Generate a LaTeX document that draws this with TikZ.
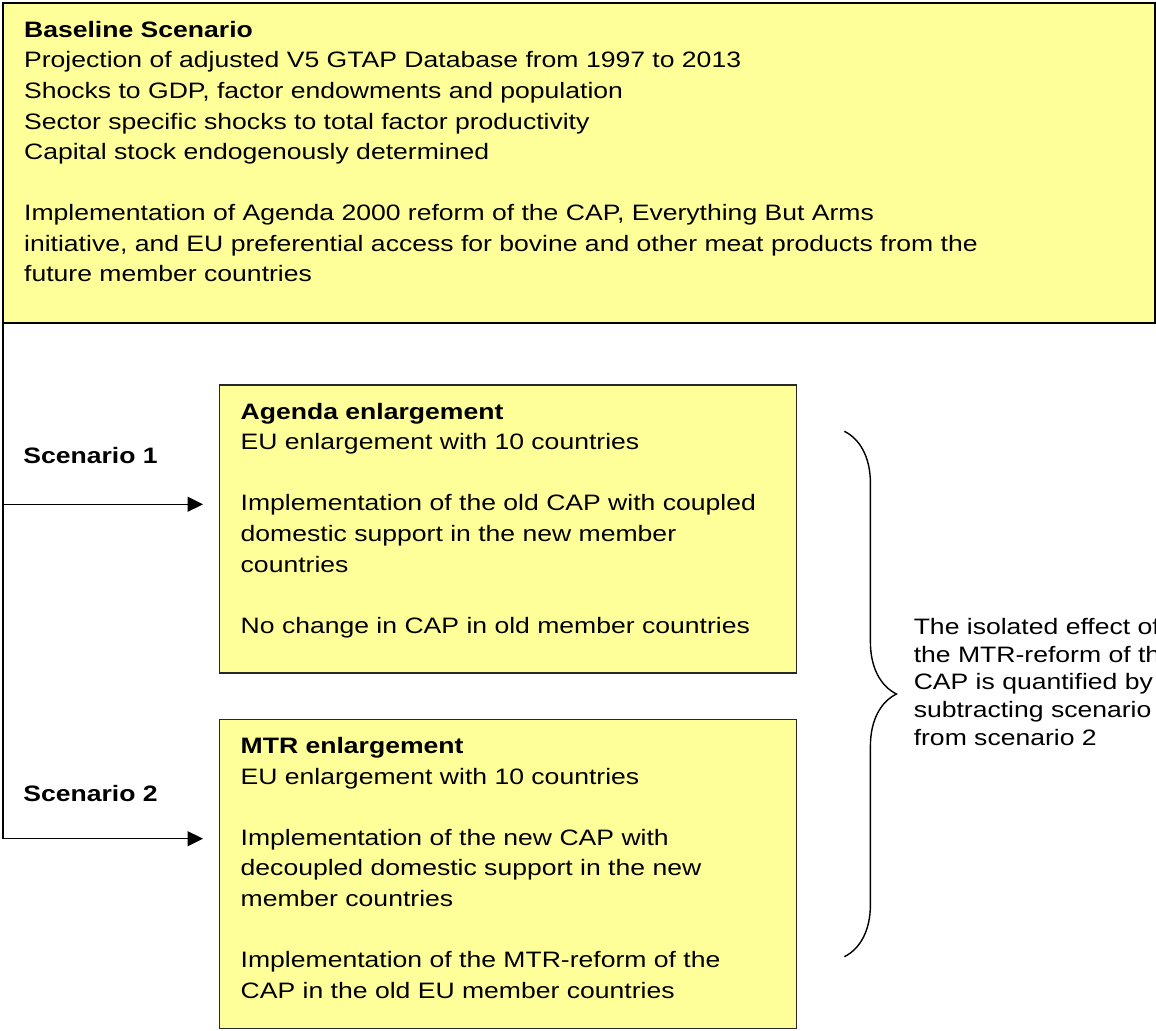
\documentclass[tikz,border=0pt]{standalone}
\usepackage{fontspec}
\setmainfont{Liberation Sans}[FakeStretch=1.19]
\usetikzlibrary{arrows.meta,positioning,decorations.pathreplacing,calc}
\definecolor{paleyellow}{RGB}{255,255,153}
\definecolor{boxline}{RGB}{40,40,40}

\begin{document}
\begin{tikzpicture}[node distance=1.2cm, auto]

\tikzstyle{basebox} = [rectangle, draw=black, line width=1.3pt, fill=paleyellow, inner xsep=0.42cm, inner ysep=0.36cm, anchor=north west, font=\fontsize{12.7pt}{17.4pt}\selectfont];
\tikzstyle{scenbox} = [rectangle, draw=boxline, line width=0.8pt, fill=paleyellow, inner xsep=0.42cm, inner ysep=0.36cm, font=\fontsize{12.7pt}{17.4pt}\selectfont];
\tikzstyle{tag} = [inner sep=0pt, font=\fontsize{12.7pt}{17.4pt}\selectfont\bfseries];
\tikzstyle{feed} = [-{Triangle[length=0.31cm, width=0.3cm]}, line width=0.8pt];

\useasboundingbox (0,0) rectangle (23.12,-20.6);

% Baseline
\node (base) [basebox] at (0.04,-0.04) {\parbox[t][5.68cm][t]{22.2cm}{\textbf{Baseline Scenario}\\
Projection of adjusted V5 GTAP Database from 1997 to 2013\\
Shocks to GDP, factor endowments and population\\
Sector specific shocks to total factor productivity\\
Capital stock endogenously determined\\[\baselineskip]
Implementation of Agenda 2000 reform of the CAP, Everything But Arms\\
initiative, and EU preferential access for bovine and other meat products from the\\
future member countries}};

% Scenario 1 dan 2
\node (agenda) [scenbox, below right=1.2cm and 4.34cm of base.south west] {\parbox[t][5.04cm][t]{10.7cm}{\textbf{Agenda enlargement}\\
EU enlargement with 10 countries\\[\baselineskip]
Implementation of the old CAP with coupled\\
domestic support in the new member\\
countries\\[\baselineskip]
No change in CAP in old member countries}};
\node (mtr) [scenbox, below=0.9cm of agenda] {\parbox[t][5.46cm][t]{10.7cm}{\textbf{MTR enlargement}\\
EU enlargement with 10 countries\\[\baselineskip]
Implementation of the new CAP with\\
decoupled domestic support in the new\\
member countries\\[\baselineskip]
Implementation of the MTR-reform of the\\
CAP in the old EU member countries}};

\node (sc1) [tag, anchor=base west] at (0.46,-9.26) {Scenario 1};
\node (sc2) [tag, anchor=base west] at (0.46,-16.02) {Scenario 2};

% Koneksi
\coordinate (in1) at ([xshift=-0.32cm, yshift=-2.4cm]agenda.north west);
\coordinate (in2) at ([xshift=-0.32cm, yshift=-2.4cm]mtr.north west);
\draw[feed] ([xshift=0.02cm]base.south west) |- (in1);
\draw[feed] ([xshift=0.02cm]base.south west) |- (in2);

% Brace
\coordinate (bracetop) at ([xshift=0.94cm, yshift=-0.94cm]agenda.north east);
\coordinate (bracebot) at ([xshift=0.94cm, yshift=-4.76cm]mtr.north east);
\draw[decorate, decoration={brace, amplitude=1.04cm}, line width=0.8pt] (bracetop) -- (bracebot);
\coordinate (tip) at ($(bracetop)!0.5!(bracebot)+(1.04,0)$);
\node (effect) [anchor=west, align=left, inner sep=0pt, font=\fontsize{12.7pt}{15.7pt}\selectfont] at ([xshift=0.34cm, yshift=0.24cm]tip) {The isolated effect of\\the MTR-reform of the\\CAP is quantified by\\subtracting scenario 1\\from scenario 2};

\end{tikzpicture}
\end{document}
